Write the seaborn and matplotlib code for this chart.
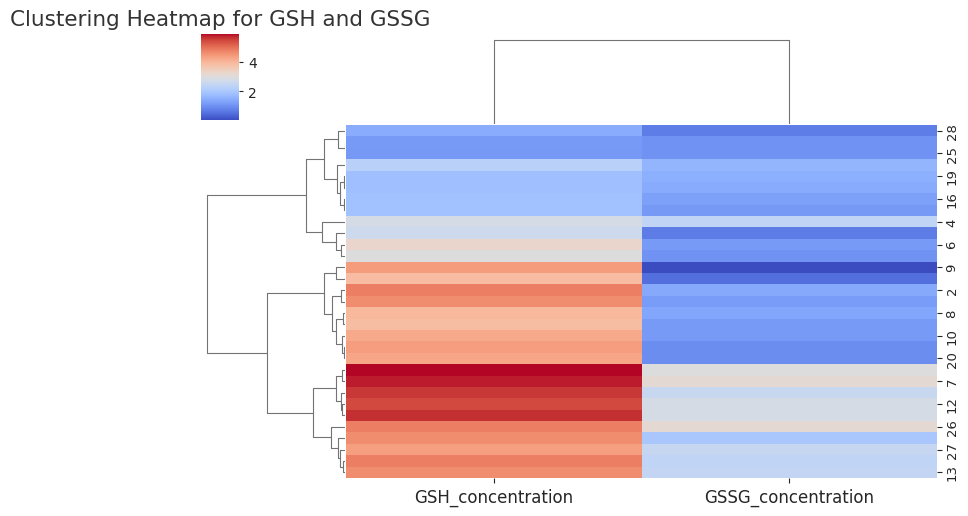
import pandas as pd
import matplotlib
matplotlib.use("Agg")
import matplotlib.pyplot as plt
import seaborn as sns

# rows in displayed (clustered) order, top to bottom
row_ids = [28, 11, 25, 14, 19, 21, 16, 17, 4, 15, 6, 18, 9, 22, 2, 3,
           8, 23, 10, 5, 20, 0, 7, 24, 12, 29, 26, 30, 27, 1, 13]
gsh = [1.45, 1.16, 1.13, 2.25, 1.81, 1.81, 1.86, 1.86, 2.80, 2.65, 3.27,
       2.98, 4.41, 3.88, 4.79, 4.61, 3.94, 3.85, 4.20, 4.38, 4.26, 5.90,
       5.78, 5.58, 5.40, 5.64, 4.79, 4.61, 4.35, 4.79, 4.61]
gssg = [0.72, 1.04, 1.04, 1.62, 1.50, 1.43, 1.24, 1.14, 2.39, 0.69, 1.16,
        1.04, 0.05, 0.52, 1.42, 1.19, 1.34, 1.16, 1.16, 0.96, 0.96, 2.98,
        3.15, 2.54, 2.80, 2.80, 3.15, 1.98, 2.51, 2.39, 2.45]
columns = ["GSH_concentration", "GSSG_concentration"]
title = "Clustering Heatmap for GSH and GSSG"

df = pd.DataFrame({columns[0]: gsh, columns[1]: gssg}, index=row_ids).sort_index()

sns.set_theme(style="ticks")
plt.rcParams["font.family"] = ["DejaVu Sans"]

g = sns.clustermap(df, method="ward", metric="euclidean", cmap="coolwarm",
                   figsize=(9.55, 5.0), yticklabels=2,
                   tree_kws={"colors": "0.45", "linewidths": 0.8},
                   cbar_pos=(0.2115, 0.7594, 0.0398, 0.1732))

W, H = 955.0, 500.0
def frac(x0, y0, x1, y1):
    return [x0 / W, 1 - y1 / H, (x1 - x0) / W, (y1 - y0) / H]

g.ax_heatmap.set_position(frac(347, 125, 938, 478))
g.ax_row_dendrogram.set_position(frac(201, 125, 346, 478))
g.ax_col_dendrogram.set_position(frac(347, 36, 938, 124))
g.ax_cbar.set_position(frac(202, 33.7, 240, 120.3))

g.ax_heatmap.set_xlabel("")
g.ax_heatmap.set_ylabel("")
g.ax_heatmap.tick_params(axis="x", labelsize=12, length=3.5, width=0.8)
g.ax_heatmap.tick_params(axis="y", labelsize=9.5, length=3.5, width=0.8, pad=2.5)
for t in g.ax_heatmap.get_yticklabels():
    t.set_rotation(90)
    t.set_va("center")
g.ax_cbar.tick_params(labelsize=10, length=3, width=0.8)
g.ax_cbar.set_title(title, fontsize=15.5, pad=6, color="0.2")

g.savefig("out.png", dpi=100)
